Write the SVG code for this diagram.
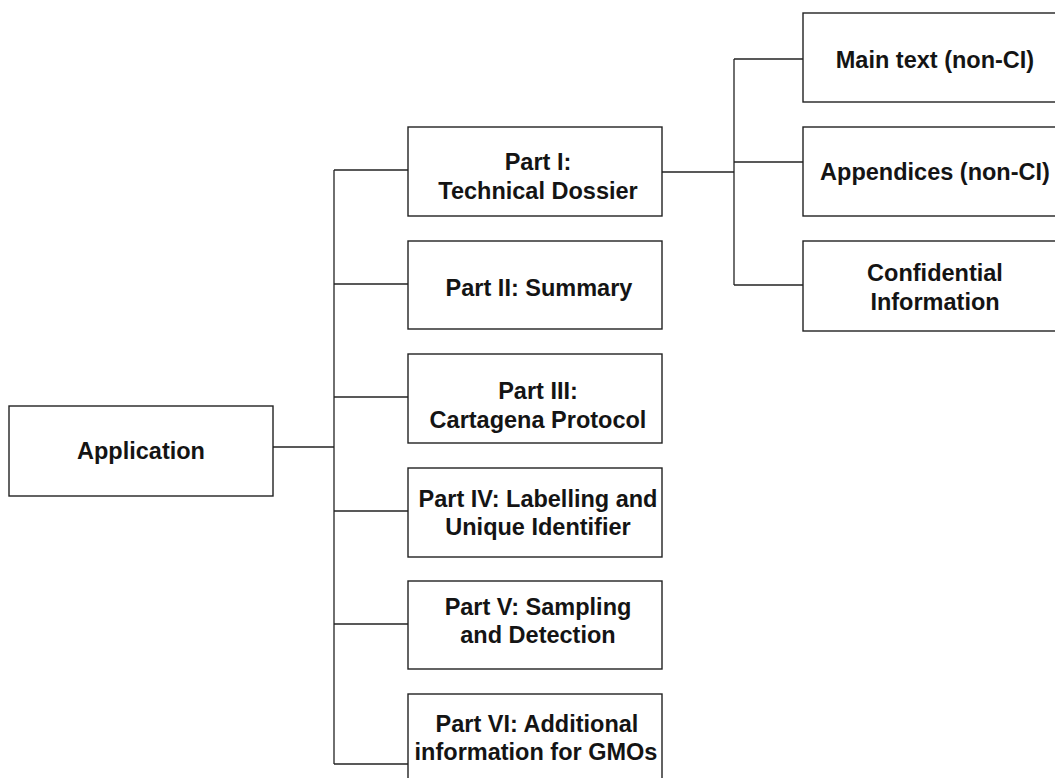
<svg xmlns="http://www.w3.org/2000/svg" width="1055" height="778" viewBox="0 0 1055 778">
<style>
.box{fill:#fff;stroke:#222;stroke-width:1.4}
.lbl{font-family:"Liberation Sans",Arial,Helvetica,sans-serif;font-size:23.5px;font-weight:bold;fill:#141414;text-anchor:middle}
.con{stroke:#222;stroke-width:1.3;fill:none}
</style>
<rect width="1055" height="778" fill="#fff"/>
<g id="connectors">
<line class="con" x1="273" y1="447" x2="334" y2="447"/>
<line class="con" x1="334" y1="170" x2="334" y2="764"/>
<line class="con" x1="334" y1="170" x2="408" y2="170"/>
<line class="con" x1="334" y1="284" x2="408" y2="284"/>
<line class="con" x1="334" y1="397" x2="408" y2="397"/>
<line class="con" x1="334" y1="511" x2="408" y2="511"/>
<line class="con" x1="334" y1="624" x2="408" y2="624"/>
<line class="con" x1="334" y1="764" x2="408" y2="764"/>
<line class="con" x1="662" y1="172" x2="734" y2="172"/>
<line class="con" x1="734" y1="59" x2="734" y2="285"/>
<line class="con" x1="734" y1="59" x2="803" y2="59"/>
<line class="con" x1="734" y1="162" x2="803" y2="162"/>
<line class="con" x1="734" y1="285" x2="803" y2="285"/>
</g>
<g id="application">
<rect class="box" x="9" y="406" width="264" height="90"/>
<text class="lbl" x="141" y="459">Application</text>
</g>
<g id="part1">
<rect class="box" x="408" y="127" width="254" height="89"/>
<text class="lbl" x="538" y="170">Part I:</text>
<text class="lbl" x="538" y="199">Technical Dossier</text>
</g>
<g id="part2">
<rect class="box" x="408" y="241" width="254" height="88"/>
<text class="lbl" x="539" y="296">Part II: Summary</text>
</g>
<g id="part3">
<rect class="box" x="408" y="354" width="254" height="89"/>
<text class="lbl" x="538" y="399">Part III:</text>
<text class="lbl" x="538" y="428">Cartagena Protocol</text>
</g>
<g id="part4">
<rect class="box" x="408" y="468" width="254" height="89"/>
<text class="lbl" x="538" y="507">Part IV: Labelling and</text>
<text class="lbl" x="538" y="535">Unique Identifier</text>
</g>
<g id="part5">
<rect class="box" x="408" y="581" width="254" height="88"/>
<text class="lbl" x="538" y="615">Part V: Sampling</text>
<text class="lbl" x="538" y="643">and Detection</text>
</g>
<g id="part6">
<rect class="box" x="408" y="694" width="254" height="89"/>
<text class="lbl" x="537" y="732">Part VI: Additional</text>
<text class="lbl" x="536" y="760">information for GMOs</text>
</g>
<g id="main-text">
<rect class="box" x="803" y="13" width="264" height="89"/>
<text class="lbl" x="935" y="68">Main text (non-CI)</text>
</g>
<g id="appendices">
<rect class="box" x="803" y="127" width="264" height="89"/>
<text class="lbl" x="935" y="180">Appendices (non-CI)</text>
</g>
<g id="confidential">
<rect class="box" x="803" y="241" width="264" height="90"/>
<text class="lbl" x="935" y="281">Confidential</text>
<text class="lbl" x="935" y="310">Information</text>
</g>
</svg>
